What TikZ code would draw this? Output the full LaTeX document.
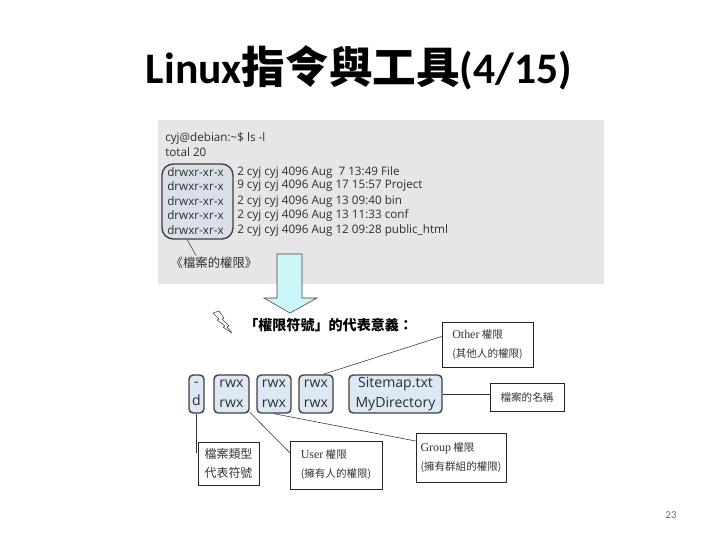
\documentclass[tikz,border=0pt]{standalone}
\usepackage{fontspec}
\usepackage{xcolor}
\usetikzlibrary{calc}
\setmainfont{Open Sans}
\newfontfamily\cjk{Noto Sans CJK TC}
\newfontfamily\calib{Carlito}
\newfontfamily\termfont{Open Sans}
\newfontfamily\serif{Liberation Serif}

\definecolor{panelgray}{HTML}{E6E6E6}
\definecolor{permfill}{HTML}{D9E0EA}
\definecolor{cellblue}{HTML}{DDE8F6}
\definecolor{arrowcyan}{HTML}{CCF7FA}
\definecolor{edgegray}{HTML}{404040}
\definecolor{termtext}{HTML}{2E2E2E}

\tikzset{
  termline/.style={anchor=west, inner sep=0pt, text=termtext, font=\termfont\fontsize{8.3}{10}\selectfont},
  permcell/.style={draw=edgegray, line width=1pt, fill=cellblue, rounded corners=3pt, align=center,
    inner sep=0pt, minimum height=0.95cm, text=termtext, font=\termfont\fontsize{10}{14}\selectfont},
  note/.style={draw=black!85, fill=white, align=left, inner sep=0pt, text=black!80,
    font=\cjk\fontsize{7.5}{13.5}\selectfont},
  callline/.style={draw=black!80},
}

\begin{document}
\begin{tikzpicture}[x=0.025cm,y=0.025cm]
  \useasboundingbox (0,0) rectangle (720,-540);
  % Title
  \node[font=\fontsize{31}{36}\selectfont] (title) at (359,-68)
    {{\calib\bfseries Linux}{\cjk\bfseries 指令與工具}{\calib\bfseries (4/15)}};
  % Terminal screenshot
  \fill[panelgray] (158,-120) rectangle (604,-284);
  \node[draw=edgegray, line width=1pt, fill=permfill, rounded corners=8pt, minimum width=1.775cm,
    minimum height=1.875cm] (permbox) at (197.5,-201.5) {};
  \node[termline] (prompt) at (165,-138) {cyj@debian:\textasciitilde\$ ls -l};
  \node[termline] (total) at (165,-152) {total 20};
  \foreach \y/\txt [count=\i] in {172/2 cyj cyj 4096 Aug~~7 13:49 File,
      186/9 cyj cyj 4096 Aug 17 15:57 Project,
      201/2 cyj cyj 4096 Aug 13 09:40 bin,
      215/2 cyj cyj 4096 Aug 13 11:33 conf,
      230/2 cyj cyj 4096 Aug 12 09:28 public\_html}
  {
    \node[termline] (perm\i) at (167,-\y) {drwxr-xr-x};
    \node[termline] (entry\i) at (237,-\y) {\txt};
  }
  \node[inner sep=1pt, text=termtext, font=\cjk\fontsize{8.8}{10}\selectfont] (permlbl) at (214,-263) {《檔案的權限》};
  \draw[edgegray] (permbox.255) -- ($(permlbl.north west)!0.3!(permlbl.north east)$);
  % Down arrow
  \draw[edgegray, fill=arrowcyan] (277,-254) -- (302,-254) -- (302,-298) -- (317,-298)
    -- (290,-313) -- (264,-298) -- (277,-298) -- cycle;
  % Heading with lightning icon
  \draw[black!75, line join=round] (213,-313) -- (219,-311) -- (224,-318) -- (222,-319) -- (229,-326)
    -- (227,-327) -- (232,-333) -- (223,-327) -- (225,-326) -- (217,-320) -- (219,-319) -- cycle;
  \node[anchor=west, inner sep=0pt, font=\cjk\bfseries\fontsize{10}{12}\selectfont] (meaning) at (244,-325)
    {「權限符號」的代表意義：};
  % Permission symbol cells
  \node[permcell, minimum width=0.375cm] (tcell) at (196.5,-394) {-\\d};
  \node[permcell, minimum width=0.875cm] (ucell) at (231.5,-394) {rwx\\rwx};
  \node[permcell, minimum width=0.85cm] (gcell) at (274,-394) {rwx\\rwx};
  \node[permcell, minimum width=0.85cm] (ocell) at (316,-394) {rwx\\rwx};
  \node[permcell, minimum width=2.325cm] (ncell) at (395.5,-394) {Sitemap.txt\\MyDirectory};
  % Callout boxes
  \node[note, minimum width=2.275cm, minimum height=1.125cm] (othbox) at (487.5,-344.5)
    {{\serif\fontsize{8.5}{13.5}\selectfont Other} 權限\\(其他人的權限)};
  \node[note, align=center, minimum width=1.85cm, minimum height=0.7cm] (namebox) at (527,-397) {檔案的名稱};
  \node[note, font=\cjk\fontsize{8.5}{13.5}\selectfont, minimum width=1.525cm, minimum height=1.075cm]
    (typebox) at (228.5,-463.5) {檔案類型\\代表符號};
  \node[note, minimum width=2.3cm, minimum height=1.2cm] (userbox) at (336,-465)
    {{\serif\fontsize{8.5}{13.5}\selectfont User} 權限\\(擁有人的權限)};
  \node[note, minimum width=2.25cm, minimum height=1.225cm] (grpbox) at (461,-457.5)
    {{\serif\fontsize{8.5}{13.5}\selectfont Group} 權限\\(擁有群組的權限)};
  % Connectors
  \coordinate (typeend) at (196.5,-453);
  \draw[callline] (ocell.70) -- (othbox.170);
  \draw[callline] (ncell.east) -- (ncell.east -| namebox.west);
  \draw[callline] (tcell) -- (typeend);
  \draw[callline] (ucell.-45) -- (userbox.165);
  \draw[callline] (gcell.south) -- (grpbox.160);
  % Page number
  \node[text=black!60, font=\calib\fontsize{7.5}{9}\selectfont] (pageno) at (671,-515) {23};
\end{tikzpicture}
\end{document}
